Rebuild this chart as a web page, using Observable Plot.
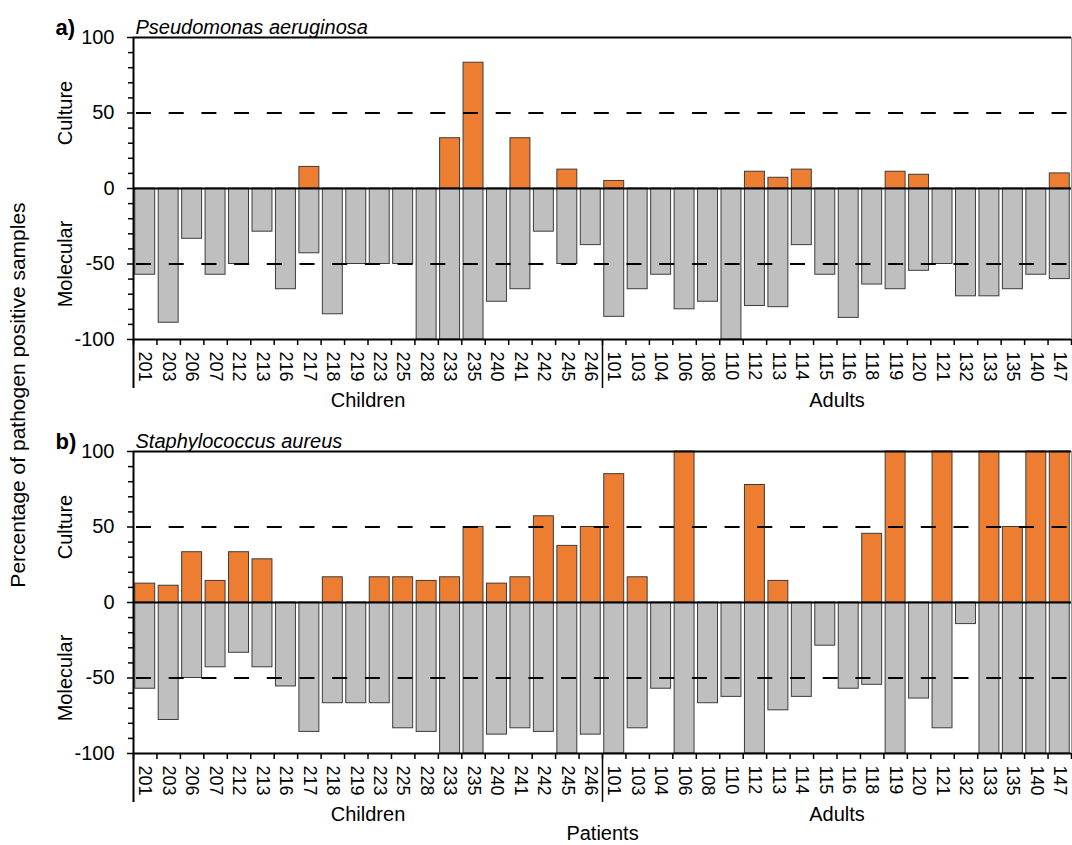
<!DOCTYPE html>
<html><head><meta charset="utf-8">
<script src="https://cdn.jsdelivr.net/npm/d3@7"></script>
<script src="https://cdn.jsdelivr.net/npm/@observablehq/plot@0.6"></script>
<style>
body{margin:0;background:#fff;font-family:"Liberation Sans",Arial,sans-serif;}
#wrap{position:relative;width:1072px;height:845px;overflow:hidden;}
#pa{position:absolute;left:0;top:0}
#pb{position:absolute;left:0;top:413px}
#ylab{position:absolute;left:18px;top:395px;transform:translate(-50%,-50%) rotate(-90deg);font-size:21px;white-space:nowrap;color:#000;}
</style></head><body>
<div id="wrap"><div id="pa"></div><div id="pb"></div><div id="ylab">Percentage of pathogen positive samples</div></div>
<script>
// Patients
const children = ["201","203","206","207","212","213","216","217","218","219","223","225","228","233","235","240","241","242","245","246"];
const adults = ["101","103","104","106","108","110","112","113","114","115","116","118","119","120","121","132","133","135","140","147"];
const groups = ["Children", "Adults"];

// a) Pseudomonas aeruginosa (% positive samples)
const paCulture = [0,0,0,0,0,0,0,14.3,0,0,0,0,0,33.3,83.3,0,33.3,0,12.5,0,
                   5,0,0,0,0,0,11.1,7.1,12.5,0,0,0,11.1,9.1,0,0,0,0,0,10];
const paMolecular = [57.1,88.9,33.3,57.1,50,28.6,66.7,42.9,83.3,50,50,50,100,100,100,75,66.7,28.6,50,37.5,
                     85,66.7,57.1,80,75,100,77.8,78.6,37.5,57.1,85.7,63.6,66.7,54.5,50,71.4,71.4,66.7,57.1,60];

// b) Staphylococcus aureus (% positive samples)
const saCulture = [12.5,11.1,33.3,14.3,33.3,28.6,0,0,16.7,0,16.7,16.7,14.3,16.7,50,12.5,16.7,57.1,37.5,50,
                   85,16.7,0,100,0,0,77.8,14.3,0,0,0,45.5,100,0,100,0,100,50,100,100];
const saMolecular = [57.1,77.8,50,42.9,33.3,42.9,55.6,85.7,66.7,66.7,66.7,83.3,85.7,100,100,87.5,83.3,85.7,100,87.5,
                     100,83.3,57.1,100,66.7,62.5,100,71.4,62.5,28.6,57.1,54.5,100,63.6,83.3,14.3,100,100,100,100];

const yTicks = [-100, -50, 0, 50, 100];
const yMinor = [-90,-80,-70,-60,-40,-30,-20,-10,10,20,30,40,60,70,80,90];
const thresholds = [50, -50];
const sides = ["Culture", "Molecular"];

const patients = children.concat(adults);
const FONT = "'Liberation Sans', Arial, sans-serif";

function panel(letter, title, culture, molecular, height, mt, mb, withPatients) {
  const rows = patients.map((p, i) => ({p, i, c: culture[i], m: -molecular[i]}));
  const n = patients.length;
  const marks = [
    Plot.rectY(rows.filter(d => d.m < 0), {x1: "i", x2: d => d.i + 1, y1: () => 0, y2: "m",
      insetLeft: 1.75, insetRight: 1.75, fill: "#bfbfbf", stroke: "#3c3c3c", strokeWidth: 1}),
    Plot.rectY(rows.filter(d => d.c > 0), {x1: "i", x2: d => d.i + 1, y1: () => 0, y2: "c",
      insetLeft: 1.75, insetRight: 1.75, fill: "#ed7d31", stroke: "#3c3c3c", strokeWidth: 1}),
    Plot.ruleY(thresholds, {stroke: "#000", strokeWidth: 2, strokeDasharray: "15,17.7", strokeDashoffset: -3}),
    Plot.ruleY([0], {stroke: "#000", strokeWidth: 2}),
    Plot.ruleY([100], {stroke: "#000", strokeWidth: 2}),
    Plot.ruleY([-100], {stroke: "#000", strokeWidth: 2}),
    Plot.ruleX([n], {y1: () => -100, y2: () => 100, stroke: "#9a9a9a", strokeWidth: 1}),
    Plot.ruleX([0], {y1: () => 100, y2: () => -100, insetBottom: -49, stroke: "#000", strokeWidth: 2}),
    Plot.ruleX([children.length], {y1: () => -100, y2: () => -100, insetBottom: -49, stroke: "#000", strokeWidth: 1.5}),
    Plot.ruleX(d3.range(n + 1), {y1: () => -100, y2: () => -100, insetBottom: -6, stroke: "#000", strokeWidth: 1.5}),
    Plot.axisY(yMinor, {anchor: "left", tickSize: 5, tickFormat: () => "", label: null, strokeWidth: 1.5}),
    Plot.axisY(yTicks, {anchor: "left", tickSize: 6, tickPadding: 13, tickFormat: d => String(d), label: null,
      fontSize: 20, strokeWidth: 1.5}),
    Plot.text(rows, {x: d => d.i + 0.5, y: () => -100, text: "p", rotate: 90, textAnchor: "start", dy: 12, fontSize: 18}),
    Plot.text(groups, {x: (d, i) => i === 0 ? children.length / 2 : children.length + adults.length / 2,
      y: () => -100, dy: 61, fontSize: 20}),
    Plot.text(sides, {frameAnchor: "left", y: d => d === sides[0] ? thresholds[0] : thresholds[1],
      rotate: -90, textAnchor: "middle", dx: -68, fontSize: 20}),
    Plot.text([letter], {frameAnchor: "top-left", dx: -78, dy: -18, textAnchor: "start", fontWeight: "bold", fontSize: 22}),
    Plot.text([title], {frameAnchor: "top-left", dx: 2, dy: -18, textAnchor: "start", fontStyle: "italic", fontSize: 20})
  ];
  if (withPatients) {
    marks.push(Plot.text(["Patients"], {x: () => children.length, y: () => -100, dy: 80, fontSize: 20}));
  }
  return Plot.plot({
    width: 1072, height, marginLeft: 133, marginRight: 1, marginTop: mt, marginBottom: mb,
    style: {fontFamily: FONT, background: "transparent", color: "#000", overflow: "visible"},
    x: {type: "linear", domain: [0, n], axis: null},
    y: {domain: [-100, 100], axis: null},
    marks
  });
}

document.getElementById("pa").appendChild(panel("a)", "Pseudomonas aeruginosa", paCulture, paMolecular, 413, 37, 74, false));
document.getElementById("pb").appendChild(panel("b)", "Staphylococcus aureus", saCulture, saMolecular, 432, 38, 92, true));
</script>
</body></html>
